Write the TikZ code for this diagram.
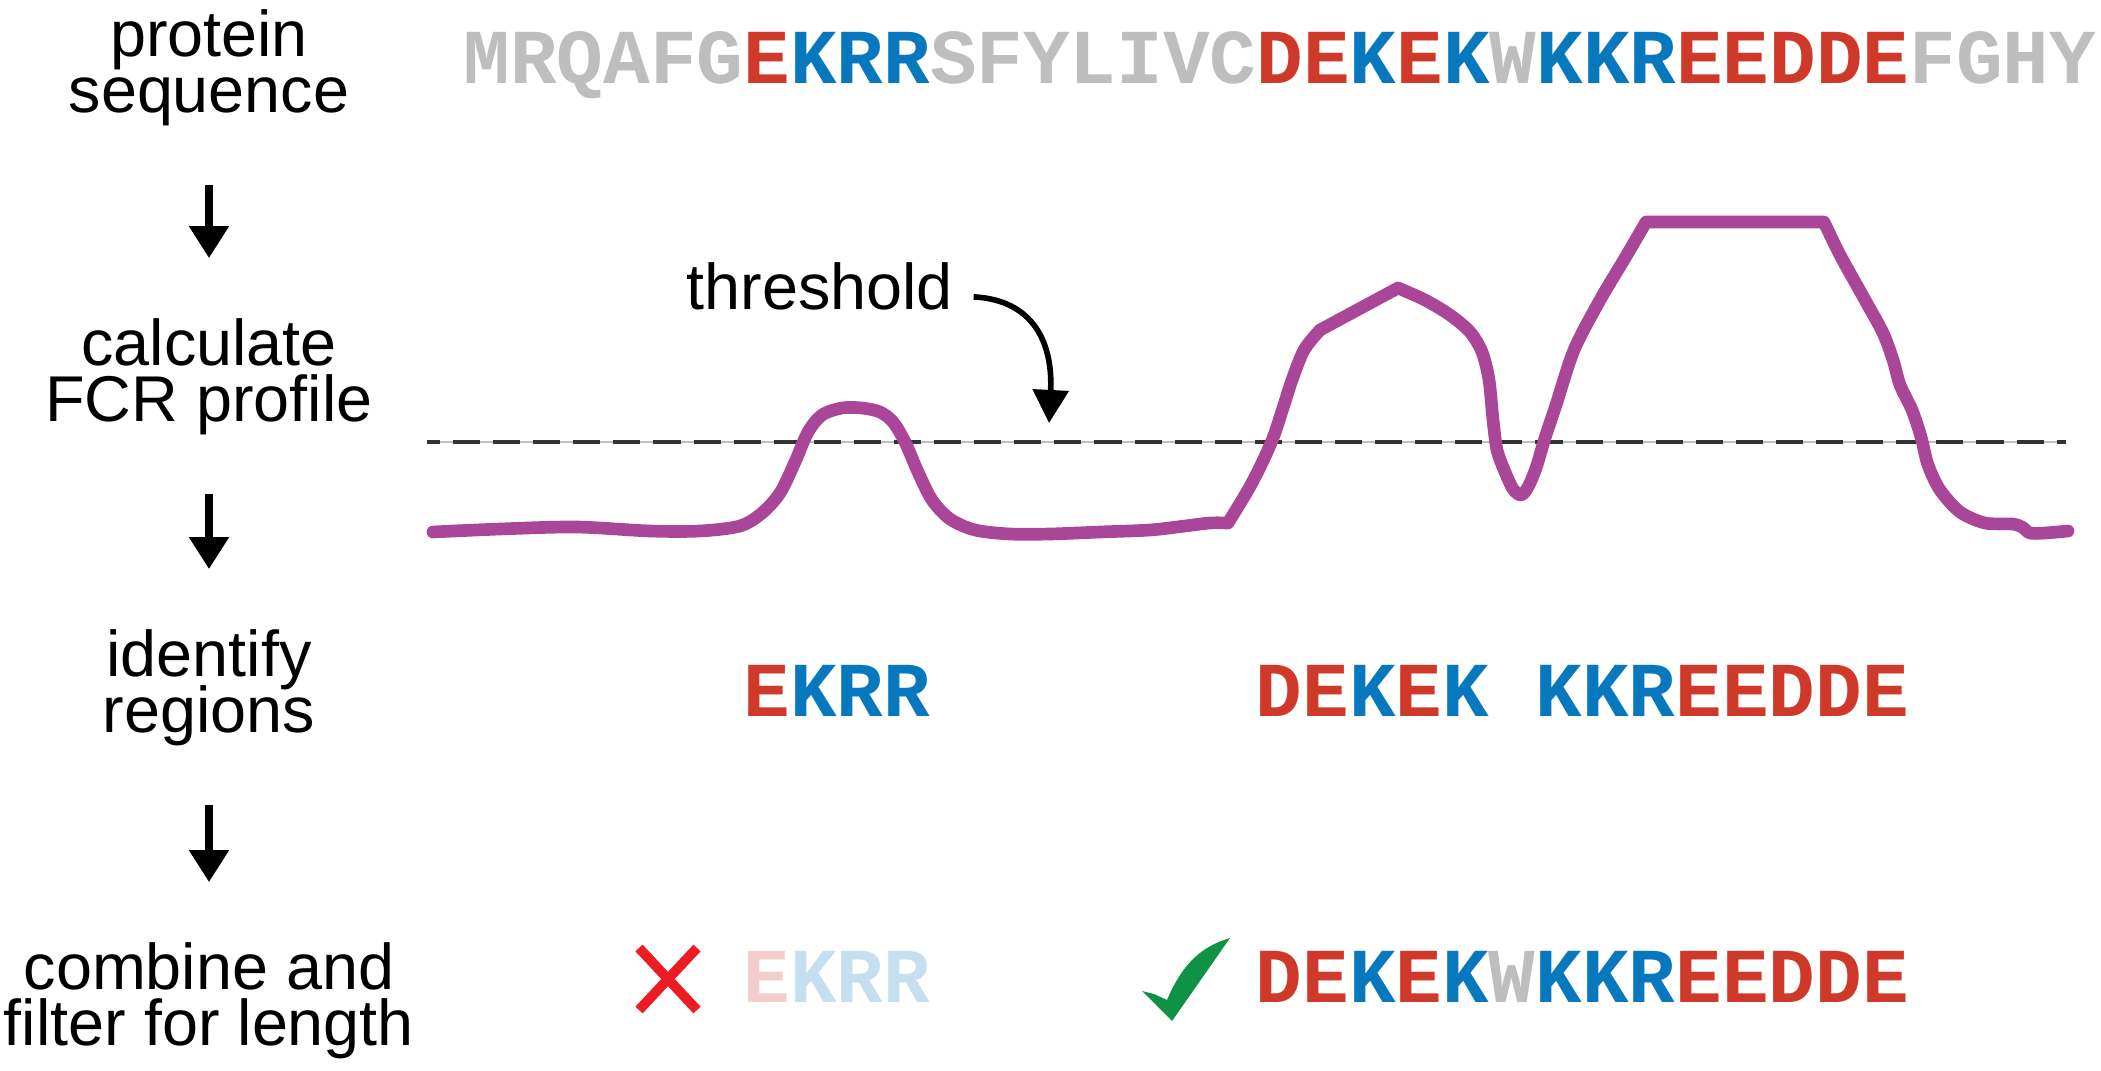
\documentclass[tikz,border=0pt]{standalone}
\usepackage{fontspec}
\setmainfont{Liberation Sans}
\newfontfamily\seqfont{Liberation Mono}
\usetikzlibrary{arrows.meta}
\definecolor{seqred}{RGB}{207,57,41}
\definecolor{seqblue}{RGB}{8,120,190}
\definecolor{seqgray}{RGB}{190,190,190}
\definecolor{fadedred}{RGB}{242,205,203}
\definecolor{fadedblue}{RGB}{197,223,240}
\definecolor{fcrpurple}{RGB}{170,70,152}
\definecolor{crossred}{RGB}{237,28,36}
\definecolor{checkgreen}{RGB}{15,146,70}
\definecolor{dashgray}{RGB}{51,51,51}
\setlength{\lineskiplimit}{-100pt}
\newcommand{\chgneg}[1]{\textcolor{seqred}{#1}}
\newcommand{\chgpos}[1]{\textcolor{seqblue}{#1}}
\newcommand{\chgnon}[1]{\textcolor{seqgray}{#1}}
\newcommand{\fadeneg}[1]{\textcolor{fadedred}{#1}}
\newcommand{\fadepos}[1]{\textcolor{fadedblue}{#1}}
\tikzset{
  steplabel/.style={font=\fontsize{18.4}{15.9}\selectfont, align=center, inner sep=0pt},
  stepline/.style={-{Triangle[width=10.8pt,length=9.1pt]}, line width=2.3pt, shorten <=0.58cm, shorten >=0.6cm},
  seqtext/.style={font=\seqfont\bfseries\fontsize{22.1}{26}\selectfont, anchor=base west, inner sep=0pt},
  fcrline/.style={fcrpurple, line width=3.6pt, line cap=round, line join=round},
  threshbase/.style={seqgray, line width=0.4pt},
  threshdash/.style={dashgray, line width=1.1pt, dash pattern=on 7.7pt off 3.7pt, dash phase=4pt},
  thrarrow/.style={-{Triangle[width=10pt,length=9.4pt]}, line width=1.6pt},
  crossmark/.style={crossred, line width=2.8pt}
}
\begin{document}
\begin{tikzpicture}[x=0.01cm,y=-0.01cm]
\useasboundingbox (0,0) rectangle (2101,1070);
% steps on the left
\node[steplabel] (lblseq) at (209,68) {protein\\sequence};
\node[steplabel] (lblcalc) at (209,377) {calculate\\FCR profile};
\node[steplabel] (lblid) at (209,688) {identify\\regions};
\node[steplabel] (lblcomb) at (209,1001) {combine and\\filter for length};
\draw[stepline] (lblseq) -- (lblcalc);
\draw[stepline] (lblcalc) -- (lblid);
\draw[stepline] (lblid) -- (lblcomb);
% sequence
\node[seqtext] (seq) at (463,84) {\chgnon{MRQAFG}\chgneg{E}\chgpos{KRR}\chgnon{SFYLIVC}\chgneg{DE}\chgpos{K}\chgneg{E}\chgpos{K}\chgnon{W}\chgpos{KKR}\chgneg{EEDDE}\chgnon{FGHY}};
% threshold
\coordinate (thrL) at (427,442);\coordinate (thrR) at (2066,442);
\draw[threshbase] (thrL) -- (thrR);
\draw[threshdash] (thrL) -- (thrR);
\node[font=\fontsize{18.4}{22}\selectfont, anchor=base west, inner sep=0pt] (thresh) at (686,309) {threshold};
\coordinate (thrtip) at (1049,423);
\draw[thrarrow] ([shift={(20,11)}]thresh.east) .. controls (1035,300) and (1053,345) .. (thrtip);
% FCR profile
\draw[fcrline] plot[smooth,tension=0.5] coordinates {(433,532) (500,529) (576,527) (650,531) (700,531) (740,526) (762,513) (780,493) (795,462) (808,432) (822,415) (842,408) (862,408) (880,412) (893,422) (905,442) (918,472) (932,500) (950,519) (975,530) (1010,534) (1050,534) (1100,532) (1150,530) (1185,526) (1210,523) (1228,523)}
 -- plot[smooth,tension=0.5] coordinates {(1228,523) (1248,490) (1261,465) (1273,438) (1283,408) (1292,380) (1304,350) (1320,330)}
 -- (1398,288)
 -- plot[smooth,tension=0.5] coordinates {(1398,288) (1425,300) (1450,315) (1470,332) (1482,352) (1489,380) (1493,420) (1497,450) (1505,472) (1513,489) (1521,495) (1528,487) (1536,468) (1545,438) (1556,405) (1574,350) (1600,300) (1625,258) (1646,222)}
 -- (1824,222)
 -- plot[smooth,tension=0.5] coordinates {(1824,222) (1840,255) (1865,300) (1883,333) (1893,360) (1900,385) (1912,410) (1921,437) (1928,465) (1940,490) (1960,512) (1985,523) (2012,524) (2022,527) (2030,533) (2045,533) (2068,531)};
% regions
\node[seqtext] (regA) at (743,716) {\chgneg{E}\chgpos{KRR}};
\node[seqtext] (regB) at (1255,716) {\chgneg{DE}\chgpos{K}\chgneg{E}\chgpos{K}\phantom{W}\chgpos{KKR}\chgneg{EEDDE}};
% filtered
\draw[crossmark] (639,948) -- (697,1010) (697,948) -- (639,1010);
\node[seqtext] (badreg) at (743,1002) {\fadeneg{E}\fadepos{KRR}};
\fill[checkgreen] (1142,991) -- (1154,994) -- (1167,1000) .. controls (1183,962) and (1203,946) .. (1230,938) -- (1172,1021) -- cycle;
\node[seqtext] (goodreg) at (1255,1002) {\chgneg{DE}\chgpos{K}\chgneg{E}\chgpos{K}\chgnon{W}\chgpos{KKR}\chgneg{EEDDE}};
\end{tikzpicture}
\end{document}
